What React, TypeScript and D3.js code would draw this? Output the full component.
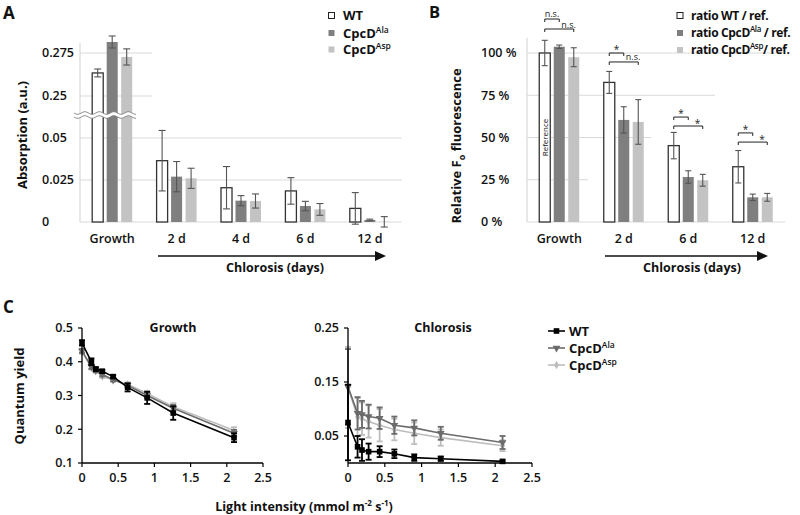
import React from 'react';
import * as d3 from 'd3';

const FONT = "'Open Sans', 'Noto Sans', sans-serif";

// ---------- Panel A data ----------
const groupsA = ['Growth', '2 d', '4 d', '6 d', '12 d'];
const seriesBar = ['WT', 'Ala', 'Asp'];
const absWT = [0.2634, 0.0365, 0.0204, 0.0185, 0.0081];
const absWTErr = [0.0023, 0.018, 0.0126, 0.0079, 0.0094];
const absAla = [0.2814, 0.027, 0.0127, 0.0095, 0.0012];
const absAlaErr = [0.0035, 0.009, 0.003, 0.0028, 0.0005];
const absAsp = [0.2727, 0.026, 0.0125, 0.0075, 0.0001];
const absAspErr = [0.0047, 0.006, 0.0042, 0.0035, 0.0031];
const ticksALow = [0, 0.025, 0.05];
const ticksAHigh = [0.25, 0.275];
const tickLabelsALow = ['0', '0.025', '0.05'];
const tickLabelsAHigh = ['0.25', '0.275'];

// ---------- Panel B data ----------
const groupsB = ['Growth', '2 d', '6 d', '12 d'];
const fluWT = [100, 82.6, 45.2, 32.7];
const fluWTErr = [7.5, 6.5, 7.8, 9.6];
const fluAla = [103.7, 60.4, 26.6, 14.6];
const fluAlaErr = [1.0, 7.8, 3.7, 1.9];
const fluAsp = [97.5, 59.2, 24.7, 14.6];
const fluAspErr = [5.6, 13.2, 3.5, 2.3];
const ticksB = [0, 25, 50, 75, 100];
const tickLabelsB = ['0 %', '25 %', '50 %', '75 %', '100 %'];
const sigShort = ['n.s.', '*', '*', '*'];
const sigLong = ['n.s.', 'n.s.', '*', '*'];
const sigShortLevel = [120.1, 100, 62.1, 52.7];
const sigLongLevel = [114.2, 94.7, 56.8, 47.3];
const gridBEnd = [785, 588, 651, 715, 782]; // right extent of each gridline (0..100)

// ---------- Panel C data ----------
const lightX = [0, 0.13, 0.19, 0.28, 0.43, 0.63, 0.9, 1.26, 2.1];
const growthWT = [0.456, 0.4, 0.378, 0.372, 0.356, 0.324, 0.293, 0.248, 0.175];
const growthWTErr = [0.008, 0.01, 0.006, 0.004, 0.004, 0.012, 0.018, 0.02, 0.013];
const growthAla = [0.432, 0.385, 0.375, 0.362, 0.347, 0.33, 0.3, 0.262, 0.188];
const growthAlaErr = [0.006, 0.006, 0.005, 0.005, 0.005, 0.006, 0.008, 0.01, 0.01];
const growthAsp = [0.43, 0.383, 0.372, 0.357, 0.345, 0.333, 0.306, 0.267, 0.196];
const growthAspErr = [0.006, 0.006, 0.005, 0.005, 0.004, 0.006, 0.008, 0.01, 0.01];
const chlWT = [0.075, 0.03, 0.024, 0.021, 0.021, 0.017, 0.01, 0.008, 0.003];
const chlWTErr = [0.07, 0.02, 0.02, 0.015, 0.01, 0.008, 0.006, 0.004, 0.002];
const chlAla = [0.141, 0.092, 0.09, 0.086, 0.083, 0.07, 0.065, 0.055, 0.038];
const chlAlaErr = [0.07, 0.03, 0.025, 0.022, 0.02, 0.016, 0.014, 0.012, 0.012];
const chlAsp = [0.14, 0.085, 0.082, 0.077, 0.07, 0.062, 0.055, 0.047, 0.032];
const chlAspErr = [0.075, 0.035, 0.03, 0.03, 0.03, 0.02, 0.02, 0.015, 0.01];
const ticksCX = [0, 0.5, 1, 1.5, 2, 2.5];
const tickLabelsCX = ['0', '0.5', '1', '1.5', '2', '2.5'];
const ticksGY = [0.1, 0.2, 0.3, 0.4, 0.5];
const tickLabelsGY = ['0.1', '0.2', '0.3', '0.4', '0.5'];
const ticksChlY = [0.05, 0.15, 0.25];
const tickLabelsChlY = ['0.05', '0.15', '0.25'];

const C_WT = '#000000';
const C_ALA = '#6b6b6b';
const C_ASP = '#bdbdbd';
const BAR_ALA = '#7f7f7f';
const BAR_ASP = '#c3c3c3';
const GRID = '#d9d9d9';
const ERR = '#555555';

function ErrBar({ x, y1, y2, cap, color, w }: any) {
  return (
    <g stroke={color} strokeWidth={w} fill="none">
      <line x1={x} x2={x} y1={y1} y2={y2} />
      <line x1={x - cap} x2={x + cap} y1={y1} y2={y1} />
      <line x1={x - cap} x2={x + cap} y1={y2} y2={y2} />
    </g>
  );
}

function Arrow({ x1, x2, y }: any) {
  return (
    <g>
      <line x1={x1} x2={x2 - 8} y1={y} y2={y} stroke="#111" strokeWidth={1.6} />
      <path d={`M${x2},${y} L${x2 - 11},${y - 5} L${x2 - 11},${y + 5} Z`} fill="#111" />
    </g>
  );
}

function PanelA() {
  const x = d3.scaleBand<string>().domain(groupsA).range([80, 402]);
  const inner = d3.scaleBand<string>().domain(seriesBar).range([-20, 20]).paddingInner(0.24);
  const yLow = d3.scaleLinear().domain([0, 0.05]).range([222, 138]);
  const yUp = d3.scaleLinear().domain([0.25, 0.275]).range([96, 53]);
  const yA = (v: number) => (v >= 0.2 ? yUp(v) : yLow(v));
  const vals = [absWT, absAla, absAsp];
  const errs = [absWTErr, absAlaErr, absAspErr];
  const fills = ['#ffffff', BAR_ALA, BAR_ASP];
  const breakY = (yLow(0.05) + yUp(0.25)) / 2 - 2;
  const wave = (off: number) => {
    const pts: [number, number][] = [];
    for (let xx = 74; xx <= 136; xx += 1) pts.push([xx, breakY + off + 1.3 * Math.sin(((xx - 74) / 14.5) * 2 * Math.PI)]);
    return pts;
  };
  const top = wave(-2);
  const bot = wave(2);
  const band = d3.line()(top.concat(bot.slice().reverse()))! + 'Z';
  const gx = (g: string) => x(g)! + x.bandwidth() / 2;
  return (
    <g>
      <text x={3} y={19} fontSize={17} fontWeight={700}>A</text>
      {ticksAHigh.map((t) => (
        <line key={t} x1={80} x2={152} y1={yUp(t)} y2={yUp(t)} stroke={GRID} strokeWidth={1.2} />
      ))}
      {ticksALow.map((t) => (
        <line key={t} x1={80} x2={402} y1={yLow(t)} y2={yLow(t)} stroke={GRID} strokeWidth={1.2} />
      ))}
      <line x1={80} x2={80} y1={43} y2={222} stroke={GRID} strokeWidth={1.2} />
      {ticksAHigh.map((t, i) => (
        <text key={t} x={42} y={yUp(t)} dy="0.35em" fontSize={12.5} fontWeight={600}>{tickLabelsAHigh[i]}</text>
      ))}
      {ticksALow.map((t, i) => (
        <text key={t} x={42} y={yLow(t)} dy="0.35em" fontSize={12.5} fontWeight={600}>{tickLabelsALow[i]}</text>
      ))}
      {groupsA.map((g, gi) => (
        <g key={g}>
          {seriesBar.map((s, si) => {
            const v = vals[si][gi];
            const bx = gx(g) + inner(s)!;
            const ytop = yA(v);
            return (
              <rect key={s} x={bx} y={ytop} width={inner.bandwidth()} height={222 - ytop}
                fill={fills[si]} stroke={si === 0 ? '#333' : 'none'} strokeWidth={1.3} />
            );
          })}
        </g>
      ))}
      <path d={band} fill="#ffffff" stroke="none" />
      <path d={d3.line()(top)!} fill="none" stroke="#777" strokeWidth={0.8} />
      <path d={d3.line()(bot)!} fill="none" stroke="#777" strokeWidth={0.8} />
      {groupsA.map((g, gi) => (
        <g key={g}>
          {seriesBar.map((s, si) => {
            const v = vals[si][gi];
            const e = errs[si][gi];
            const cx = gx(g) + inner(s)! + inner.bandwidth() / 2;
            return <ErrBar key={s} x={cx} y1={yA(v + e)} y2={yA(v - e)} cap={3.5} color={ERR} w={1.1} />;
          })}
        </g>
      ))}
      {groupsA.map((g) => (
        <text key={g} x={gx(g)} y={243} textAnchor="middle" fontSize={12.5} fontWeight={600}>{g}</text>
      ))}
      <Arrow x1={158} x2={386} y={256} />
      <text x={275} y={272} textAnchor="middle" fontSize={12.5} fontWeight={700}>Chlorosis (days)</text>
      <text transform="translate(27,135) rotate(-90)" textAnchor="middle" fontSize={13} fontWeight={700}>Absorption (a.u.)</text>
      {seriesBar.map((s, si) => {
        const yy = [15.5, 33, 49.5][si];
        return (
          <g key={s}>
            <rect x={328.5} y={yy - 3} width={6} height={6} fill={fills[si]} stroke={si === 0 ? '#222' : 'none'} strokeWidth={1} />
            <text x={343} y={yy} dy="0.35em" fontSize={13} fontWeight={700}>
              {si === 0 ? 'WT' : (<>CpcD<tspan fontSize={8.5} dy={-5} fontWeight={600}>{s}</tspan></>)}
            </text>
          </g>
        );
      })}
    </g>
  );
}

function PanelB() {
  const x = d3.scaleBand<string>().domain(groupsB).range([527, 785]);
  const inner = d3.scaleBand<string>().domain(seriesBar).range([-20, 20]).paddingInner(0.24);
  const y = d3.scaleLinear().domain([0, 100]).range([222, 53]);
  const vals = [fluWT, fluAla, fluAsp];
  const errs = [fluWTErr, fluAlaErr, fluAspErr];
  const fills = ['#ffffff', BAR_ALA, BAR_ASP];
  const gx = (g: string) => x(g)! + x.bandwidth() / 2;
  const cx = (g: string, s: string) => gx(g) + inner(s)! + inner.bandwidth() / 2;
  return (
    <g>
      <text x={429} y={18} fontSize={16.5} fontWeight={700}>B</text>
      {ticksB.map((t, i) => (
        <line key={t} x1={527} x2={gridBEnd[i]} y1={y(t)} y2={y(t)} stroke={GRID} strokeWidth={1.2} />
      ))}
      <line x1={527} x2={527} y1={38} y2={222} stroke={GRID} strokeWidth={1.2} />
      {ticksB.map((t, i) => (
        <text key={t} x={481} y={y(t)} dy="0.35em" fontSize={12.5} fontWeight={600}>{tickLabelsB[i]}</text>
      ))}
      {groupsB.map((g, gi) => (
        <g key={g}>
          {seriesBar.map((s, si) => {
            const v = vals[si][gi];
            return (
              <rect key={s} x={gx(g) + inner(s)!} y={y(v)} width={inner.bandwidth()} height={222 - y(v)}
                fill={fills[si]} stroke={si === 0 ? '#333' : 'none'} strokeWidth={1.3} />
            );
          })}
          {seriesBar.map((s, si) => {
            const v = vals[si][gi];
            const e = errs[si][gi];
            return <ErrBar key={'e' + s} x={cx(g, s)} y1={y(v + e)} y2={y(v - e)} cap={3} color={ERR} w={1.1} />;
          })}
        </g>
      ))}
      <text transform={`translate(${cx('Growth', 'WT')},${y(50)}) rotate(-90)`} textAnchor="middle" dy="0.35em" fontSize={8}>Reference</text>
      {groupsB.map((g, gi) => {
        const xa = cx(g, 'WT');
        const xb = cx(g, 'Ala');
        const xc = cx(g, 'Asp');
        const y1 = y(sigShortLevel[gi]);
        const y2 = y(sigLongLevel[gi]);
        const ns1 = sigShort[gi] === 'n.s.';
        const ns2 = sigLong[gi] === 'n.s.';
        return (
          <g key={g} stroke="#222" strokeWidth={1} fill="none">
            <path d={`M${xa},${y1 + 3}V${y1}H${xb}V${y1 + 3}`} />
            <path d={`M${xa},${y2 + 3}V${y2}H${xc}V${y2 + 3}`} />
            <text x={(xa + xb) / 2} y={y1 - (ns1 ? 2.5 : 0)} textAnchor="middle" fontSize={ns1 ? 9 : 10} stroke="none" fill="#222">{sigShort[gi]}</text>
            <text x={xb + (ns2 ? 2 : 6.5)} y={y2 - (ns2 ? 1.5 : -1)} textAnchor="start" fontSize={ns2 ? 9 : 10} stroke="none" fill="#222">{sigLong[gi]}</text>
          </g>
        );
      })}
      {groupsB.map((g) => (
        <text key={g} x={gx(g)} y={243} textAnchor="middle" fontSize={12.5} fontWeight={600}>{g}</text>
      ))}
      <Arrow x1={605} x2={768} y={256} />
      <text x={692} y={272} textAnchor="middle" fontSize={12.5} fontWeight={700}>Chlorosis (days)</text>
      <text transform="translate(461,146) rotate(-90)" textAnchor="middle" fontSize={13} fontWeight={700}>
        Relative F<tspan fontSize={9} dy={4}>o</tspan><tspan dy={-4}> fluorescence</tspan>
      </text>
      {seriesBar.map((s, si) => {
        const yy = [15.5, 33, 50][si];
        return (
          <g key={s}>
            <rect x={677} y={yy - 3} width={6} height={6} fill={fills[si]} stroke={si === 0 ? '#222' : 'none'} strokeWidth={1} />
            <text x={691} y={yy} dy="0.35em" fontSize={12} letterSpacing={-0.35} fontWeight={700}>
              {si === 0 ? 'ratio WT / ref.' : (<>ratio CpcD<tspan fontSize={8} dy={-5} fontWeight={600}>{s}</tspan><tspan dy={5}>{si === 1 ? ' / ref.' : '/ ref.'}</tspan></>)}
            </text>
          </g>
        );
      })}
    </g>
  );
}

function Marker({ kind, x, y, color }: any) {
  if (kind === 'sq') return <rect x={x - 2.8} y={y - 2.8} width={5.6} height={5.6} fill={color} />;
  if (kind === 'tri') {
    const p = d3.symbol().type(d3.symbolTriangle).size(26)()!;
    return <path d={p} transform={`translate(${x},${y}) rotate(180)`} fill={color} />;
  }
  const p = d3.symbol().type(d3.symbolDiamond).size(22)()!;
  return <path d={p} transform={`translate(${x},${y})`} fill={color} />;
}

function LinePlot({ title, xs, ys, series, ticksY, tickLabelsY, titleX }: any) {
  const line = d3.line<number>().x((_, i) => xs(lightX[i])).y((d) => ys(d));
  const [x0, x1] = xs.range();
  const [y0, y1] = ys.range();
  return (
    <g>
      {series.map((s: any) => (
        <g key={s.name}>
          <path d={line(s.vals)!} fill="none" stroke={s.color} strokeWidth={1.6} />
          {s.vals.map((v: number, i: number) => (
            <ErrBar key={i} x={xs(lightX[i])} y1={ys(v + s.errs[i])} y2={ys(Math.max(v - s.errs[i], ys.domain()[0]))} cap={3} color={s.color} w={1.8} />
          ))}
          {s.vals.map((v: number, i: number) => (
            <Marker key={'m' + i} kind={s.marker} x={xs(lightX[i])} y={ys(v)} color={s.color} />
          ))}
        </g>
      ))}
      <line x1={x0} x2={x1} y1={y0} y2={y0} stroke="#000" strokeWidth={1.3} />
      <line x1={x0} x2={x0} y1={y0} y2={y1} stroke="#000" strokeWidth={1.3} />
      {ticksCX.map((t, i) => (
        <g key={t}>
          <line x1={xs(t)} x2={xs(t)} y1={y0} y2={y0 + 4} stroke="#000" strokeWidth={1.2} />
          <text x={xs(t)} y={478} textAnchor="middle" dy="0.35em" fontSize={12.5} fontWeight={600}>{tickLabelsCX[i]}</text>
        </g>
      ))}
      {ticksY.map((t: number, i: number) => (
        <g key={t}>
          <line x1={x0 - 4} x2={x0} y1={ys(t)} y2={ys(t)} stroke="#000" strokeWidth={1.2} />
          <text x={x0 - 9} y={ys(t)} dy="0.35em" textAnchor="end" fontSize={12.5} fontWeight={600}>{tickLabelsY[i]}</text>
        </g>
      ))}
      <text x={titleX} y={328} dy="0.35em" textAnchor="middle" fontSize={12.5} fontWeight={700}>{title}</text>
    </g>
  );
}

function PanelC() {
  const xG = d3.scaleLinear().domain([0, 2.5]).range([82, 263]);
  const yG = d3.scaleLinear().domain([0.1, 0.5]).range([463, 328]);
  const xC = d3.scaleLinear().domain([0, 2.5]).range([348, 532]);
  const yC = d3.scaleLinear().domain([0, 0.25]).range([463, 328]);
  const growthSeries = [
    { name: 'Asp', vals: growthAsp, errs: growthAspErr, color: C_ASP, marker: 'dia' },
    { name: 'Ala', vals: growthAla, errs: growthAlaErr, color: C_ALA, marker: 'tri' },
    { name: 'WT', vals: growthWT, errs: growthWTErr, color: C_WT, marker: 'sq' },
  ];
  const chlSeries = [
    { name: 'Asp', vals: chlAsp, errs: chlAspErr, color: C_ASP, marker: 'dia' },
    { name: 'Ala', vals: chlAla, errs: chlAlaErr, color: C_ALA, marker: 'tri' },
    { name: 'WT', vals: chlWT, errs: chlWTErr, color: C_WT, marker: 'sq' },
  ];
  const legend = [
    { label: 'WT', sup: '', color: C_WT, marker: 'sq' },
    { label: 'CpcD', sup: 'Ala', color: C_ALA, marker: 'tri' },
    { label: 'CpcD', sup: 'Asp', color: C_ASP, marker: 'dia' },
  ];
  return (
    <g>
      <text x={3} y={313} fontSize={17} fontWeight={700}>C</text>
      <LinePlot title="Growth" xs={xG} ys={yG} series={growthSeries} ticksY={ticksGY} tickLabelsY={tickLabelsGY} titleX={173} />
      <LinePlot title="Chlorosis" xs={xC} ys={yC} series={chlSeries} ticksY={ticksChlY} tickLabelsY={tickLabelsChlY} titleX={443} />
      <text transform="translate(24,396) rotate(-90)" textAnchor="middle" fontSize={13} fontWeight={700}>Quantum yield</text>
      <text x={304} y={511} textAnchor="middle" fontSize={12.5} fontWeight={700}>
        Light intensity (mmol m<tspan fontSize={8} dy={-5}>-2</tspan><tspan dy={5}> s</tspan><tspan fontSize={8} dy={-5}>-1</tspan><tspan dy={5}>)</tspan>
      </text>
      {legend.map((l, i) => {
        const yy = [331, 348, 365][i];
        return (
          <g key={i}>
            <line x1={548} x2={565} y1={yy} y2={yy} stroke={l.color} strokeWidth={1.6} />
            <Marker kind={l.marker} x={556.5} y={yy} color={l.color} />
            <text x={569} y={yy} dy="0.35em" fontSize={13} fontWeight={700}>
              {l.label}{l.sup ? <tspan fontSize={8.5} dy={-5} fontWeight={600}>{l.sup}</tspan> : null}
            </text>
          </g>
        );
      })}
    </g>
  );
}

export default function App() {
  return (
    <svg width={800} height={515} style={{ position: 'absolute', left: 0, top: 0, background: '#fff' }}
      fontFamily={FONT} fill="#111">
      <rect width={800} height={515} fill="#fff" />
      <PanelA />
      <PanelB />
      <PanelC />
    </svg>
  );
}
